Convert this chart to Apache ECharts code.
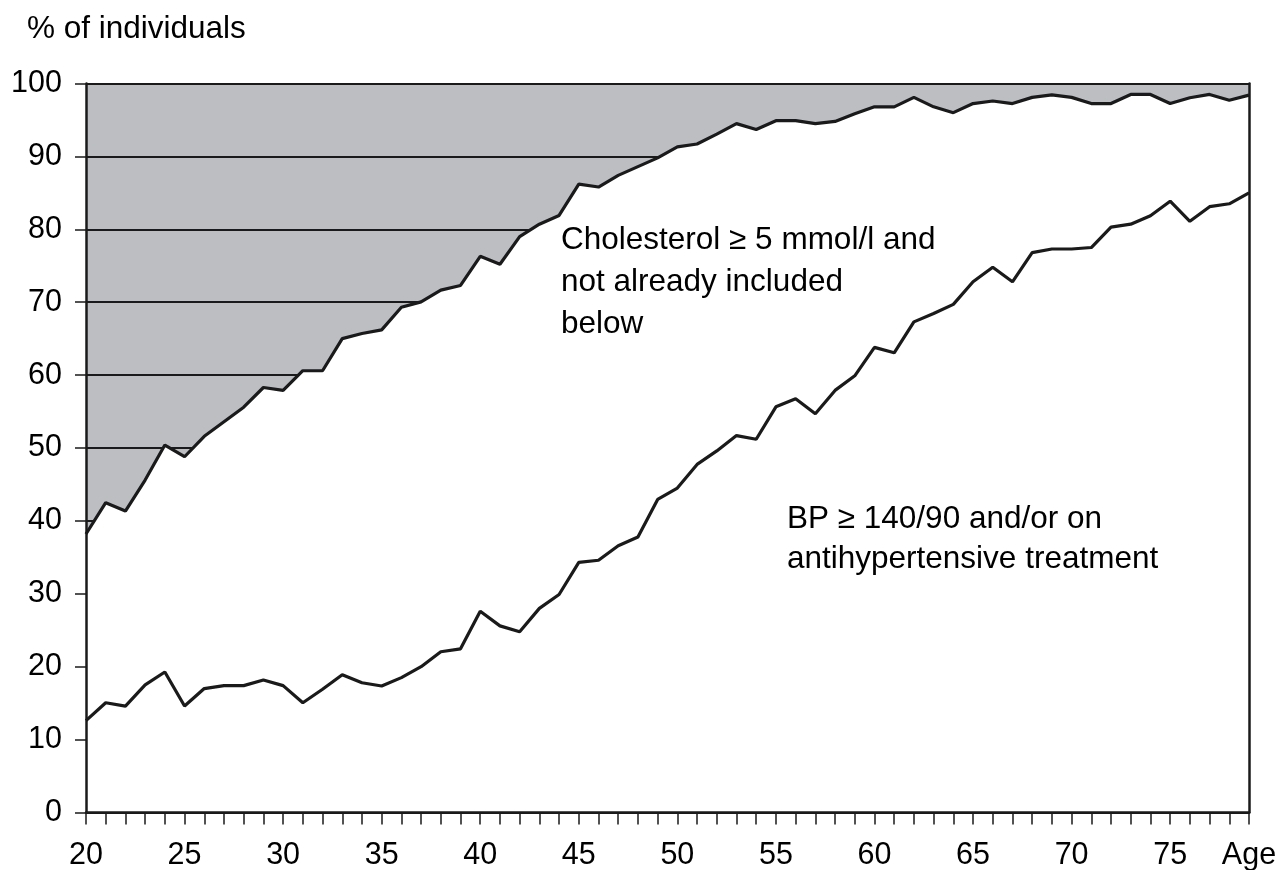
<!DOCTYPE html>
<html>
<head>
<meta charset="utf-8">
<script src="https://cdn.jsdelivr.net/npm/echarts@6/dist/echarts.min.js"></script>
<style>html,body{margin:0;padding:0;background:#fff}#c{width:1278px;height:870px}</style>
</head>
<body>
<div id="c"></div>
<script>
const ages = [20,21,22,23,24,25,26,27,28,29,30,31,32,33,34,35,36,37,38,39,40,41,42,43,44,45,46,47,48,49,50,51,52,53,54,55,56,57,58,59,60,61,62,63,64,65,66,67,68,69,70,71,72,73,74,75,76,77,78,79];
const cholesterolOrBP = [38.2,42.5,41.35,45.6,50.4,48.8,51.6,53.6,55.6,58.3,57.9,60.6,60.6,65.0,65.7,66.2,69.3,70.05,71.65,72.3,76.3,75.2,79.0,80.7,81.9,86.2,85.8,87.4,88.6,89.8,91.3,91.7,93.05,94.5,93.7,94.9,94.9,94.5,94.8,95.85,96.8,96.8,98.1,96.8,96.0,97.25,97.6,97.25,98.1,98.45,98.1,97.25,97.25,98.5,98.5,97.25,98.05,98.5,97.7,98.4];
const bp = [12.6,15.06,14.6,17.5,19.27,14.6,17.0,17.4,17.4,18.17,17.4,15.06,16.9,18.9,17.8,17.35,18.5,20.0,22.05,22.45,27.6,25.6,24.8,28.0,29.9,34.3,34.6,36.6,37.8,42.95,44.5,47.75,49.6,51.7,51.2,55.65,56.75,54.7,57.9,59.9,63.8,63.06,67.3,68.45,69.7,72.8,74.8,72.8,76.8,77.3,77.3,77.5,80.3,80.7,81.85,83.85,81.1,83.1,83.5,85.0];
const yTicks = [0,10,20,30,40,50,60,70,80,90,100];
const yTitle = '% of individuals';
const xEndLabel = 'Age';
const noteChol = ['Cholesterol \u2265 5 mmol/l and', 'not already included', 'below'];
const noteBP = ['BP \u2265 140/90 and/or on', 'antihypertensive treatment'];

const FONT = '"Liberation Sans", Arial, sans-serif';
const INK = '#1a1a1a';
const chart = echarts.init(document.getElementById('c'), null, {renderer: 'canvas'});
const yMin = yTicks[0], yMax = yTicks[yTicks.length - 1], yStep = yTicks[1] - yTicks[0];

chart.setOption({
  animation: false,
  backgroundColor: '#ffffff',
  title: {
    text: yTitle, left: 22, top: 8,
    textStyle: {fontFamily: FONT, fontSize: 31.5, fontWeight: 'normal', color: '#000'}
  },
  grid: {left: 86, right: 29, top: 83.5, bottom: 57.5, show: true, backgroundColor: '#bdbec2', borderWidth: 0, containLabel: false, outerBoundsMode: 'none'},
  xAxis: {
    type: 'category', data: ages.map(String), boundaryGap: false, z: 10,
    axisLine: {show: true, lineStyle: {color: INK, width: 2.5}},
    axisTick: {show: true, interval: 0, length: 12, lineStyle: {color: INK, width: 1.5}},
    axisLabel: {
      interval: 0, margin: 28, fontFamily: FONT, fontSize: 30.5, color: '#000',
      formatter: function (v, i) {
        const a = Number(v);
        if (i === ages.length - 1) return xEndLabel;
        return a % 5 === 0 ? v : '';
      }
    },
    splitLine: {show: false}
  },
  yAxis: [
    {
      type: 'value', min: yMin, max: yMax, interval: yStep, position: 'left',
      axisLine: {show: false}, axisTick: {show: false},
      axisLabel: {margin: 24, fontFamily: FONT, fontSize: 30.5, color: '#000'},
      splitLine: {show: true, lineStyle: {color: INK, width: 1.8}}
    },
    {
      type: 'value', min: yMin, max: yMax, interval: yStep, position: 'left', z: 10,
      axisLine: {show: true, onZero: false, lineStyle: {color: INK, width: 2.5}},
      axisTick: {show: true, length: 11, lineStyle: {color: INK, width: 1.5}},
      axisLabel: {show: false}, splitLine: {show: false}
    },
    {
      type: 'value', min: yMin, max: yMax, interval: yStep, position: 'right', z: 10,
      axisLine: {show: true, onZero: false, lineStyle: {color: INK, width: 2.5}},
      axisTick: {show: false}, axisLabel: {show: false}, splitLine: {show: false}
    }
  ],
  series: [
    {
      type: 'line', data: cholesterolOrBP, yAxisIndex: 0, symbol: 'none', z: 3,
      lineStyle: {color: INK, width: 3.2},
      areaStyle: {color: '#ffffff', opacity: 1, origin: 'start'}
    },
    {
      type: 'line', data: bp, yAxisIndex: 0, symbol: 'none', z: 4,
      lineStyle: {color: INK, width: 3.2}
    }
  ],
  graphic: [
    {type: 'text', left: 561, top: 219, z: 20, style: {text: noteChol.join('\n'), font: '31.5px ' + FONT, lineHeight: 42, fill: '#000'}},
    {type: 'text', left: 787, top: 499, z: 20, style: {text: noteBP.join('\n'), font: '31.5px ' + FONT, lineHeight: 40, fill: '#000'}}
  ]
});
</script>
</body>
</html>
